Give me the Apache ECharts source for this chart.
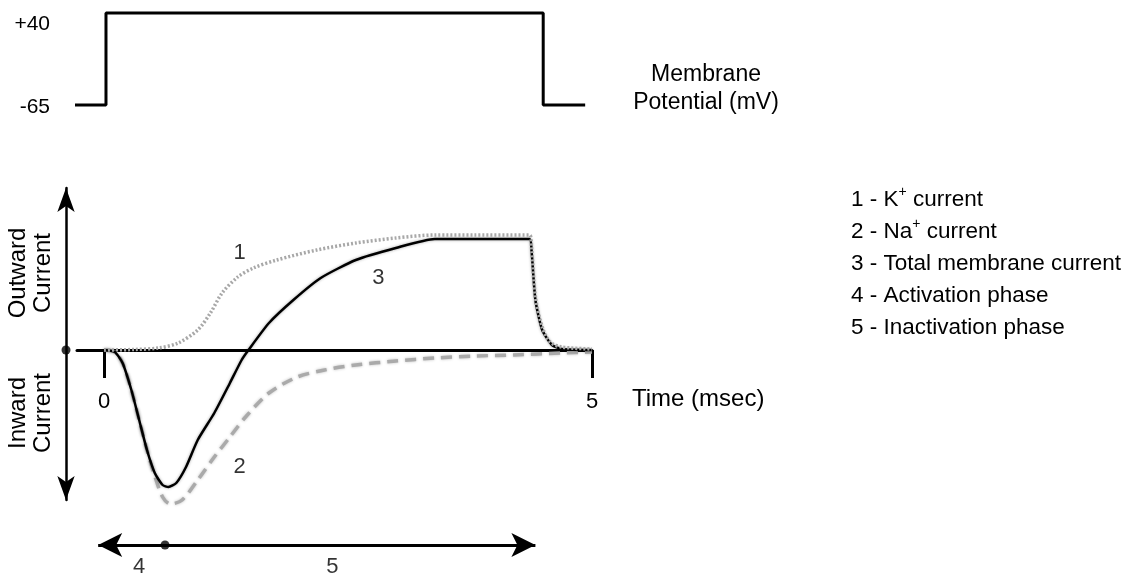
<!DOCTYPE html>
<html><head><meta charset="utf-8">
<script src="https://cdn.jsdelivr.net/npm/echarts@6/dist/echarts.min.js"></script>
<style>html,body{margin:0;padding:0;background:#fff}#c{width:1135px;height:579px}</style>
</head><body><div id="c"></div>
<script>
// ---- Membrane potential step (time in ms, potential in mV)
const voltageTime  = [-0.37, 0.02, 0.02, 4.5, 4.5, 4.93];
const voltageValue = [-65, -65, 40, 40, -65, -65];
const voltageTicks = [-65, 40];

// ---- Currents (arbitrary units; + outward, - inward)
const kTime  = [0, 0.3, 0.56, 0.76, 0.96, 1.09, 1.21, 1.37, 1.53, 1.77, 2.18, 2.58, 2.99, 3.39, 3.8, 4.36, 4.38, 4.42, 4.49, 4.57, 4.69, 5];
const kValue = [0, 0.5, 2, 7, 20, 37, 57, 73, 82, 90, 100, 107, 112, 115, 115, 115, 103, 53, 23, 8, 3, 1];

const naTime  = [0, 0.11, 0.19, 0.28, 0.36, 0.44, 0.52, 0.6, 0.68, 0.8, 0.96, 1.13, 1.29, 1.45, 1.69, 1.98, 2.26, 2.58, 2.99, 3.39, 3.8, 4.2, 4.69, 5];
const naValue = [0, -2, -13, -40, -70, -100, -126, -147, -154, -150, -130, -107, -87, -67, -43, -27, -20, -15, -11, -8, -6, -5, -3, -2];

const totalTime  = [0, 0.11, 0.19, 0.28, 0.36, 0.44, 0.52, 0.6, 0.66, 0.74, 0.84, 0.96, 1.13, 1.29, 1.41, 1.48, 1.69, 1.94, 2.22, 2.58, 2.99, 3.39, 4.36, 4.38, 4.42, 4.49, 4.59, 4.69, 5];
const totalValue = [0, -2, -13, -40, -70, -100, -123, -135, -137, -133, -117, -90, -63, -33, -10, 0, 27, 50, 72, 90, 102, 111, 111, 100, 50, 20, 5, 1, 0];

const timeTicks = [0, 5];

// curve number labels
const curveLabelNames = ['1', '3', '2'];
const curveLabelTime  = [1.39, 2.81, 1.39];
const curveLabelValue = [97, 72, -117];

// phases (activation / inactivation): arrow start, split point, arrow end
const phaseEdges = [-0.06, 0.625, 4.42];
const phaseLabelNames = ['4', '5'];
const phaseLabelTime  = [0.36, 2.34];

const legendLines = [
  '1 - K{sup|+} current',
  '2 - Na{sup|+} current',
  '3 - Total membrane current',
  '4 - Activation phase',
  '5 - Inactivation phase'
];

const zip = (a, b) => a.map((v, i) => [v, b[i]]);
const FONT = 'Liberation Sans, Arial, sans-serif';
const X_MIN = -0.277, X_MAX = 5;

const chart = echarts.init(document.getElementById('c'), null, {renderer: 'canvas'});

const textStyle = (text, size, align, extra) => Object.assign({
  text: text, font: size + 'px ' + FONT, fill: '#000',
  align: align, verticalAlign: 'middle', textAlign: align, textVerticalAlign: 'middle'
}, extra || {});

const graphics = [
  {type: 'text', x: 706, y: 89, style: textStyle('Membrane\nPotential (mV)', 23, 'center', {lineHeight: 28})},
  {type: 'text', x: 632, y: 399, style: textStyle('Time (msec)', 24, 'left')},
  {type: 'text', x: 31, y: 273, rotation: Math.PI / 2, style: textStyle('Outward\nCurrent', 24, 'center', {lineHeight: 25})},
  {type: 'text', x: 31, y: 413, rotation: Math.PI / 2, style: textStyle('Inward\nCurrent', 24, 'center', {lineHeight: 25})}
];
legendLines.forEach((t, i) => {
  graphics.push({type: 'text', x: 851, y: 200 + i * 32, style: textStyle(t, 22.5, 'left', {
    lineHeight: 30,
    rich: {sup: {fontSize: 14, fontFamily: FONT, lineHeight: 19, verticalAlign: 'top', fill: '#000'}}
  })});
});

const option = {
  animation: false,
  backgroundColor: '#fff',
  grid: [
    {left: 77, right: 543, top: 13, height: 92},
    {left: 77, right: 543, top: 188, bottom: 79},
    {left: 77, right: 543, top: 525, height: 40}
  ],
  xAxis: [
    {gridIndex: 0, type: 'value', min: X_MIN, max: X_MAX, show: false},
    {gridIndex: 1, type: 'value', min: X_MIN, max: X_MAX,
      axisLine: {show: true, onZero: true, lineStyle: {color: '#000', width: 3}},
      axisTick: {show: true, customValues: timeTicks, length: 28, lineStyle: {color: '#000', width: 3}},
      axisLabel: {show: true, customValues: timeTicks, margin: -109, fontSize: 22, fontFamily: FONT, color: '#000'},
      splitLine: {show: false}},
    {gridIndex: 2, type: 'value', min: X_MIN, max: X_MAX, show: false}
  ],
  yAxis: [
    {gridIndex: 0, type: 'value', min: -65, max: 40,
      axisLine: {show: false, onZero: false}, axisTick: {show: false}, splitLine: {show: false},
      axisLabel: {show: true, customValues: voltageTicks, margin: 27, fontSize: 21, fontFamily: FONT, color: '#000',
        formatter: v => (v > 0 ? '{hi|+' + v + '}' : '{lo|' + v + '}'),
        rich: {hi: {fontSize: 21, fontFamily: FONT, padding: [22, 0, 0, 0]}, lo: {fontSize: 21, fontFamily: FONT, padding: [4, 0, 0, 0]}}}},
    {gridIndex: 1, type: 'value', min: -150, max: 162, offset: 11,
      axisLine: {show: true, onZero: false, symbol: ['arrow', 'arrow'], symbolSize: [13, 24], lineStyle: {color: '#000', width: 2.5}},
      axisTick: {show: false}, axisLabel: {show: false}, splitLine: {show: false}},
    {gridIndex: 2, type: 'value', min: -1, max: 1, show: false}
  ],
  graphic: graphics,
  series: [
    {type: 'line', xAxisIndex: 0, yAxisIndex: 0, data: zip(voltageTime, voltageValue), symbol: 'none', clip: false,
      lineStyle: {color: '#000', width: 3}, silent: true},
    {type: 'line', xAxisIndex: 1, yAxisIndex: 1, data: zip(naTime, naValue), symbol: 'none', clip: false, smooth: 0.3,
      lineStyle: {color: '#aaaaaa', width: 3.5, type: [11, 7], shadowBlur: 3, shadowColor: 'rgba(0,0,0,0.25)'}, silent: true},
    {type: 'line', xAxisIndex: 1, yAxisIndex: 1, data: zip(totalTime, totalValue), symbol: 'none', clip: false, smooth: 0.2,
      lineStyle: {color: '#000', width: 2.5, shadowBlur: 3, shadowColor: 'rgba(0,0,0,0.35)'}, silent: true},
    {type: 'line', xAxisIndex: 1, yAxisIndex: 1, data: zip(kTime, kValue), symbol: 'none', clip: false, smooth: 0.3,
      lineStyle: {color: '#a8a8a8', width: 3.5, type: [2, 2]}, silent: true},
    {type: 'scatter', xAxisIndex: 1, yAxisIndex: 1, clip: false, symbolSize: 9, itemStyle: {color: '#000'},
      data: [[X_MIN - 11 / 97.6, 0]], silent: true},
    {type: 'scatter', xAxisIndex: 1, yAxisIndex: 1, clip: false, symbolSize: 0, silent: true,
      data: curveLabelNames.map((n, i) => ({name: n, value: [curveLabelTime[i], curveLabelValue[i]]})),
      label: {show: true, position: 'inside', formatter: p => p.name, fontSize: 22, fontFamily: FONT, color: '#000'}},
    {type: 'scatter', xAxisIndex: 2, yAxisIndex: 2, clip: false, symbolSize: 9, itemStyle: {color: '#000'}, silent: true,
      data: [[phaseEdges[1], 0]],
      markLine: {silent: true, symbol: ['arrow', 'arrow'], symbolSize: [18, 24], label: {show: false},
        lineStyle: {color: '#000', width: 3, type: 'solid'},
        data: [[{coord: [phaseEdges[0], 0]}, {coord: [phaseEdges[2], 0]}]]}},
    {type: 'scatter', xAxisIndex: 2, yAxisIndex: 2, clip: false, symbolSize: 0, silent: true,
      data: phaseLabelNames.map((n, i) => ({name: n, value: [phaseLabelTime[i], -1.1]})),
      label: {show: true, position: 'inside', formatter: p => p.name, fontSize: 22, fontFamily: FONT, color: '#000'}}
  ]
};
chart.setOption(option);
</script></body></html>
